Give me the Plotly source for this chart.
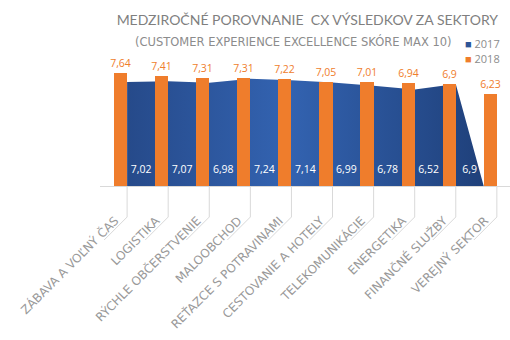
import plotly.graph_objects as go

categories = ["ZÁBAVA A VOĽNÝ ČAS", "LOGISTIKA", "RÝCHLE OBČERSTVENIE", "MALOOBCHOD",
              "REŤAZCE S POTRAVINAMI", "CESTOVANIE A HOTELY", "TELEKOMUNIKÁCIE",
              "ENERGETIKA", "FINANČNÉ SLUŽBY", "VEREJNÝ SEKTOR"]
values_2017 = [7.02, 7.07, 6.98, 7.24, 7.14, 6.99, 6.78, 6.52, 6.9, None]
values_2018 = [7.64, 7.41, 7.31, 7.31, 7.22, 7.05, 7.01, 6.94, 6.9, 6.23]

ORANGE = "#EF7D2C"
GRAY = "#8C8C8C"
FONT = "Open Sans"
WIDE = "DejaVu Sans"

def fmt(v):
    return ("%g" % v).replace(".", ",")

idx = list(range(len(categories)))
BW = 0.32
XR = [-0.66, 9.32]
YR = [0, 126 / 14.8]

fig = go.Figure()

# 2017 area: vertices at category ticks, dropping to zero where data is missing
ax, ay = [], []
for i, v in zip(idx, values_2017):
    if v is None:
        ax.append(i - BW)
        ay.append(0)
    else:
        ax.append(i)
        ay.append(v)
fig.add_trace(go.Scatter(
    x=ax, y=ay, mode="lines", line=dict(width=0), fill="tozeroy",
    fillgradient=dict(type="horizontal",
                      colorscale=[[0, "#264a8a"], [0.45, "#3363b1"], [1, "#1f407a"]]),
    hoverinfo="skip", showlegend=False))

# 2017 labels
lab_x = [i + 0.34 for i, v in zip(idx, values_2017) if v is not None]
lab_t = [fmt(v) for v in values_2017 if v is not None]
fig.add_trace(go.Scatter(
    x=lab_x, y=[1.05] * len(lab_x), mode="text", text=lab_t,
    textfont=dict(color="white", size=10.5, family=FONT),
    hoverinfo="skip", showlegend=False))

# 2018 bars on an overlaid axis so they sit above the area
fig.add_trace(go.Bar(
    x=[i - BW / 2 for i in idx], y=values_2018, width=BW,
    xaxis="x2", yaxis="y2",
    marker=dict(color=ORANGE, line=dict(width=0)),
    text=[fmt(v) for v in values_2018], textposition="outside", constraintext="none",
    textfont=dict(color=ORANGE, size=10.5, family=FONT),
    cliponaxis=False, showlegend=False))

# leader lines under the axis
for i in idx:
    fig.add_shape(type="path", xref="x", yref="paper", xsizemode="pixel", ysizemode="pixel",
                  xanchor=i, yanchor=0, path="M0,0 L0,-31 L-23,-54",
                  line=dict(color="#D9D9D9", width=1))

fig.update_layout(
    width=510, height=340, margin=dict(l=100, r=0, t=60, b=154),
    plot_bgcolor="white", paper_bgcolor="white", bargap=0,
    font=dict(family=FONT, color=GRAY),
    title=dict(text="MEDZIROČNÉ POROVNANIE  CX VÝSLEDKOV ZA SEKTORY",
               x=498 / 510, xanchor="right", y=1 - 20 / 340, yanchor="middle",
               font=dict(size=14, color="#7F7F7F", family="Lato")),
    xaxis=dict(range=XR, tickvals=idx, ticktext=categories,
               tickangle=-45, ticks="", showgrid=False, zeroline=False,
               ticklabelshift=-12, ticklabelstandoff=22,
               showline=True, linecolor="#D9D9D9", linewidth=1,
               tickfont=dict(size=12, color="#999999", family=WIDE)),
    yaxis=dict(range=YR, visible=False, showgrid=False, zeroline=False),
    xaxis2=dict(range=XR, overlaying="x", visible=False),
    yaxis2=dict(range=YR, overlaying="y", visible=False),
    annotations=[
        dict(text="(CUSTOMER EXPERIENCE EXCELLENCE SKÓRE MAX 10)", xref="paper", yref="paper",
             x=(454 - 100) / 410, xanchor="right", y=(186 - 41) / 126, yanchor="middle",
             showarrow=False, font=dict(size=11.5, color=GRAY, family=WIDE)),
        dict(text="<span style='color:#2E5597'>■</span> 2017", xref="paper", yref="paper",
             x=(463 - 100) / 410, xanchor="left", y=(186 - 43) / 126, yanchor="middle",
             showarrow=False, font=dict(size=11, color=GRAY, family=FONT)),
        dict(text="<span style='color:" + ORANGE + "'>■</span> 2018", xref="paper", yref="paper",
             x=(463 - 100) / 410, xanchor="left", y=(186 - 58) / 126, yanchor="middle",
             showarrow=False, font=dict(size=11, color=GRAY, family=FONT)),
    ],
)

fig.write_html("out.html")
